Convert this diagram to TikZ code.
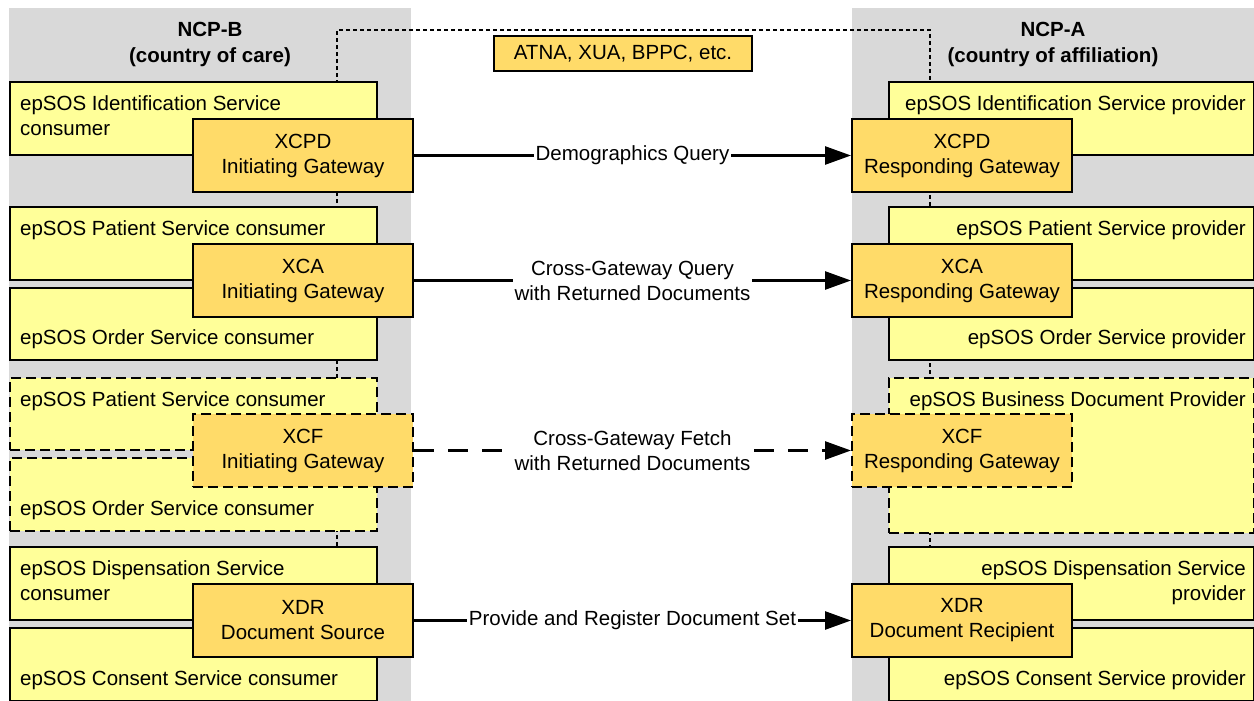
\documentclass[tikz,border=0pt]{standalone}
\usepackage{fontspec}
\setmainfont{Liberation Sans}
\usetikzlibrary{positioning}
\usetikzlibrary{scopes}
\usetikzlibrary{arrows.meta}

\definecolor{colgrey}{HTML}{D9D9D9}
\definecolor{svcyellow}{HTML}{FFFF99}
\definecolor{gwyellow}{HTML}{FFDB69}

\begin{document}
\begin{tikzpicture}[
    x=1pt, y=-1pt,
    every node/.style={font=\fontsize{20.5}{25}\selectfont},
    col/.style={fill=colgrey, draw=none, inner sep=0, minimum width=402pt, minimum height=693pt, anchor=north west},
    ttl/.style={align=center, inner sep=0, font=\fontsize{20.5}{26}\selectfont\bfseries},
    sbox/.style={draw, fill=svcyellow, line width=2pt, inner sep=0, minimum width=367pt, minimum height=73pt, anchor=north west},
    dbox/.style={sbox, dash pattern=on 10pt off 5pt},
    gbox/.style={draw, fill=gwyellow, line width=2pt, inner sep=0, minimum width=220pt, minimum height=73pt, anchor=north west, align=center},
    dgbox/.style={gbox, dash pattern=on 10pt off 5pt},
    ltext/.style={inner sep=0, align=left},
    rtext/.style={inner sep=0, align=right},
    dline/.style={line width=2pt, dash pattern=on 4pt off 3pt},
    msg/.style={-{Triangle[length=26pt, width=18pt]}, line width=2.6pt},
    dmsg/.style={msg, dash pattern=on 20pt off 14pt},
    mlabel/.style={midway, fill=white, inner sep=2pt, align=center}
]
\useasboundingbox (0,0) rectangle (1254,701);

% columns
\node[col] (colb) at (9,8) {};
\node[col] (cola) at (852,8) {};
\node[ttl] (ncpb) at (210,44) {NCP-B\\(country of care)};
\node[ttl] (ncpa) at (1053,44) {NCP-A\\(country of affiliation)};

% common services
\coordinate (dlb) at (337,546);
\coordinate (dla) at (930,546);
\coordinate (dtop) at (337,30);
\draw[dline] (dlb) -- (dtop) -| (dla);
\node[gbox, anchor=center, minimum width=258pt, minimum height=35pt] (common) at (623,53.5) {ATNA, XUA, BPPC, etc.};

% NCP-B consumers
{ [local bounding box=consumers]
\node[sbox] (idc) at (9,81) {};
\node[ltext, anchor=north west] (idct) at ([shift={(11pt,-14pt)}]idc.north west) {epSOS Identification Service\\consumer};
\node[sbox] (patc) at (9,206) {};
\node[ltext, anchor=north west] (patct) at ([shift={(11pt,-14pt)}]patc.north west) {epSOS Patient Service consumer};
\node[sbox, minimum height=72pt] (ordc) at (9,287) {};
\node[ltext, anchor=south west] (ordct) at ([shift={(11pt,12pt)}]ordc.south west) {epSOS Order Service consumer};
\node[dbox, minimum height=72pt] (patcf) at (9,377) {};
\node[ltext, anchor=north west] (patcft) at ([shift={(11pt,-14pt)}]patcf.north west) {epSOS Patient Service consumer};
\node[dbox] (ordcf) at (9,457) {};
\node[ltext, anchor=south west] (ordcft) at ([shift={(11pt,12pt)}]ordcf.south west) {epSOS Order Service consumer};
\node[sbox] (dispc) at (9,546) {};
\node[ltext, anchor=north west] (dispct) at ([shift={(11pt,-14pt)}]dispc.north west) {epSOS Dispensation Service\\consumer};
\node[sbox] (conc) at (9,627) {};
\node[ltext, anchor=south west] (conct) at ([shift={(11pt,12pt)}]conc.south west) {epSOS Consent Service consumer};
}

% NCP-A providers
{ [local bounding box=providers]
\node[sbox, minimum width=365pt] (idp) at (888,81) {};
\node[rtext, anchor=north east] (idpt) at ([shift={(-9pt,-14pt)}]idp.north east) {epSOS Identification Service provider};
\node[sbox, minimum width=365pt] (patp) at (888,206) {};
\node[rtext, anchor=north east] (patpt) at ([shift={(-9pt,-14pt)}]patp.north east) {epSOS Patient Service provider};
\node[sbox, minimum width=365pt, minimum height=72pt] (ordp) at (888,287) {};
\node[rtext, anchor=south east] (ordpt) at ([shift={(-9pt,12pt)}]ordp.south east) {epSOS Order Service provider};
\node[dbox, minimum width=365pt, minimum height=155pt] (docp) at (888,377) {};
\node[rtext, anchor=north east] (docpt) at ([shift={(-9pt,-14pt)}]docp.north east) {epSOS Business Document Provider};
\node[sbox, minimum width=365pt] (dispp) at (888,546) {};
\node[rtext, anchor=north east] (disppt) at ([shift={(-9pt,-14pt)}]dispp.north east) {epSOS Dispensation Service\\provider};
\node[sbox, minimum width=365pt] (conp) at (888,627) {};
\node[rtext, anchor=south east] (conpt) at ([shift={(-9pt,12pt)}]conp.south east) {epSOS Consent Service provider};
}

% gateways
\node[gbox] (xcpdi) at (192,118) {XCPD\\Initiating Gateway};
\node[gbox] (xcai) at (192,243) {XCA\\Initiating Gateway};
\node[dgbox] (xcfi) at (192,413) {XCF\\Initiating Gateway};
\node[gbox] (xdrs) at (192,583) {XDR\\Document Source};
\node[gbox] (xcpdr) at (851,118) {XCPD\\Responding Gateway};
\node[gbox] (xcar) at (851,243) {XCA\\Responding Gateway};
\node[dgbox] (xcfr) at (851,413) {XCF\\Responding Gateway};
\node[gbox] (xdrr) at (851,583) {XDR\\Document Recipient};

% transactions
\draw[msg] (xcpdi) -- (xcpdr) node[mlabel] {Demographics Query};
\draw[msg] (xcai) -- (xcar) node[mlabel] {Cross-Gateway Query\\with Returned Documents};
\draw[dmsg] (xcfi) -- (xcfr) node[mlabel] {Cross-Gateway Fetch\\with Returned Documents};
\draw[msg] (xdrs) -- (xdrr) node[mlabel] {Provide and Register Document Set};

\end{tikzpicture}
\end{document}
